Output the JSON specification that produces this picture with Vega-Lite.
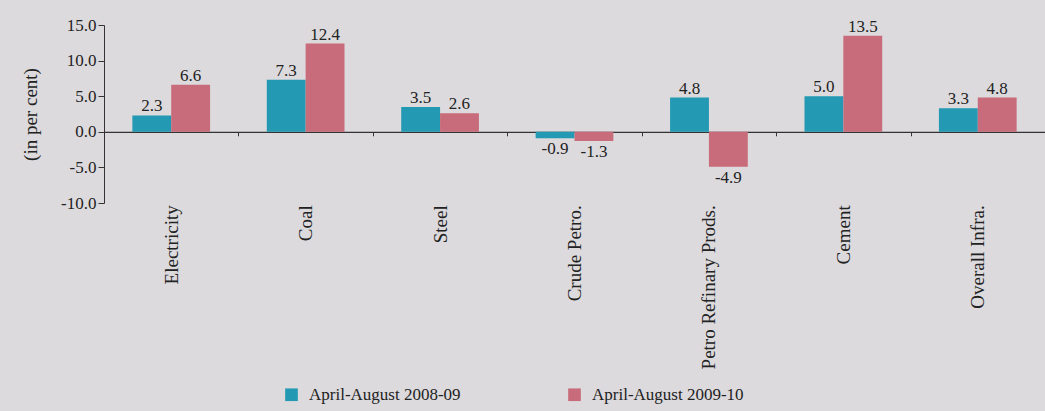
{
  "$schema": "https://vega.github.io/schema/vega-lite/v6.json",
  "width": 941,
  "height": 178,
  "autosize": {"type": "none"},
  "padding": {"left": 104, "top": 25, "right": 0, "bottom": 208},
  "background": "#dcdadd",
  "config": {
    "view": {"stroke": null},
    "font": "Liberation Serif",
    "locale": {"number": {"decimal": ".", "thousands": ",", "grouping": [3], "currency": ["$", ""], "minus": "-"}}
  },
  "data": {
    "values": [
      {"cat": "Electricity", "period": "April-August 2008-09", "value": 2.3},
      {"cat": "Electricity", "period": "April-August 2009-10", "value": 6.6},
      {"cat": "Coal", "period": "April-August 2008-09", "value": 7.3},
      {"cat": "Coal", "period": "April-August 2009-10", "value": 12.4},
      {"cat": "Steel", "period": "April-August 2008-09", "value": 3.5},
      {"cat": "Steel", "period": "April-August 2009-10", "value": 2.6},
      {"cat": "Crude Petro.", "period": "April-August 2008-09", "value": -0.9},
      {"cat": "Crude Petro.", "period": "April-August 2009-10", "value": -1.3},
      {"cat": "Petro Refinary Prods.", "period": "April-August 2008-09", "value": 4.8},
      {"cat": "Petro Refinary Prods.", "period": "April-August 2009-10", "value": -4.9},
      {"cat": "Cement", "period": "April-August 2008-09", "value": 5.0},
      {"cat": "Cement", "period": "April-August 2009-10", "value": 13.5},
      {"cat": "Overall Infra.", "period": "April-August 2008-09", "value": 3.3},
      {"cat": "Overall Infra.", "period": "April-August 2009-10", "value": 4.8}
    ]
  },
  "encoding": {
    "x": {
      "field": "cat", "type": "nominal", "sort": null,
      "scale": {"paddingInner": 0, "paddingOuter": 0},
      "axis": {
        "title": null, "orient": "bottom", "offset": -71.2,
        "domainColor": "#333", "domainWidth": 1.2,
        "ticks": true, "tickBand": "extent", "tickSize": 4, "tickColor": "#333",
        "labelAngle": 270, "labelAlign": "right", "labelBaseline": "middle",
        "labelPadding": 69, "labelFontSize": 19, "labelColor": "#222", "labelLimit": 300
      }
    },
    "xOffset": {"field": "period", "type": "nominal", "scale": {"paddingInner": 0, "paddingOuter": 0.73}},
    "y": {
      "field": "value", "type": "quantitative",
      "scale": {"domain": [-10, 15], "nice": false, "zero": false},
      "axis": {
        "title": "(in per cent)", "titleFontWeight": "normal", "titleFontSize": 19, "titleColor": "#222", "titlePadding": 20,
        "values": [-10, -5, 0, 5, 10, 15], "format": ".1f", "grid": false,
        "domainColor": "#333", "tickColor": "#333", "tickSize": 6,
        "labelFontSize": 17, "labelColor": "#222", "labelPadding": 2
      }
    }
  },
  "layer": [
    {
      "mark": {"type": "bar"},
      "encoding": {
        "color": {
          "field": "period", "type": "nominal",
          "scale": {"domain": ["April-August 2008-09", "April-August 2009-10"], "range": ["#2399b3", "#c86b7a"]},
          "legend": {
            "title": null, "orient": "none", "legendX": 179, "legendY": 361, "direction": "horizontal",
            "symbolType": "square", "symbolSize": 160, "symbolStrokeWidth": 0, "symbolOpacity": 1,
            "labelFontSize": 17, "labelColor": "#222", "labelOffset": 9, "labelLimit": 300, "columnPadding": 105
          }
        }
      }
    },
    {
      "transform": [{"filter": "datum.value >= 0"}],
      "mark": {"type": "text", "baseline": "bottom", "dy": 0, "fontSize": 17, "color": "#222"},
      "encoding": {"text": {"field": "value", "type": "quantitative", "format": ".1f"}}
    },
    {
      "transform": [{"filter": "datum.value < 0"}],
      "mark": {"type": "text", "baseline": "top", "dy": 3, "fontSize": 17, "color": "#222"},
      "encoding": {"text": {"field": "value", "type": "quantitative", "format": ".1f"}}
    }
  ]
}
